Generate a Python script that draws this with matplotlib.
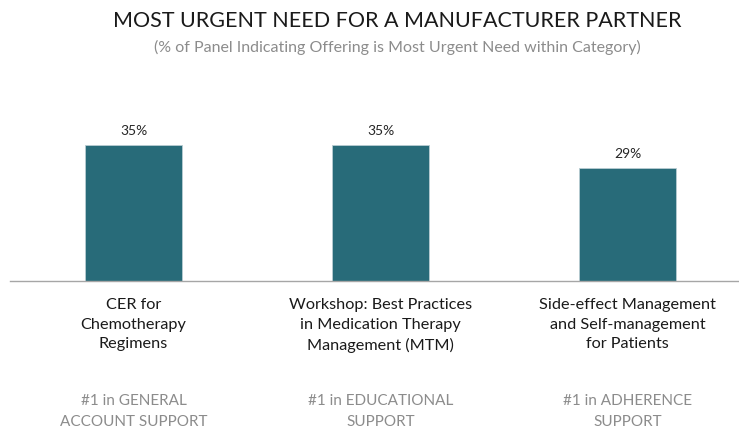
import matplotlib
matplotlib.use("Agg")
import matplotlib.pyplot as plt

categories = ["CER for\nChemotherapy\nRegimens",
              "Workshop: Best Practices\nin Medication Therapy\nManagement (MTM)",
              "Side-effect Management\nand Self-management\nfor Patients"]
values = [35, 35, 29]
value_labels = ["35%", "35%", "29%"]
ranks = ["#1 in GENERAL\nACCOUNT SUPPORT",
         "#1 in EDUCATIONAL\nSUPPORT",
         "#1 in ADHERENCE\nSUPPORT"]

plt.rcParams['font.family'] = ['Lato', 'DejaVu Sans']

W, H = 739, 428
fig = plt.figure(figsize=(W/100, H/100), dpi=100)
fig.patch.set_facecolor("white")

ax_left, ax_right = 10/W, 1.0
ax_bottom = (H-281)/H
ax_top = (H-125)/H
ax = fig.add_axes([ax_left, ax_bottom, ax_right-ax_left, ax_top-ax_bottom])

x = list(range(len(categories)))
bars = ax.bar(x, values, width=0.393, color="#286b79", edgecolor="#b9cdd2", linewidth=0.6, zorder=2)
ax.set_xlim(-0.5, 2.451)
ax.set_ylim(0, (281-125)/3.886)
for s in ["top", "right", "left"]:
    ax.spines[s].set_visible(False)
ax.spines["bottom"].set_color("#a6a6a6")
ax.spines["bottom"].set_linewidth(1.0)
ax.set_xticks([])
ax.set_yticks([])

for xi, v, lab in zip(x, values, value_labels):
    ax.annotate(lab, (xi, v), xytext=(0, 6), textcoords="offset points",
                ha="center", va="bottom", fontsize=10, color="#262626")

for xi, cat, rk in zip(x, categories, ranks):
    ax.annotate(cat, (xi, 0), xytext=(0, -12.5), textcoords="offset points",
                ha="center", va="top", fontsize=11.7, color="#1a1a1a", linespacing=1.5)
    ax.annotate(rk, (xi, 0), xytext=(0, -81.5), textcoords="offset points",
                ha="center", va="top", fontsize=11, color="#8c8c8c", linespacing=1.58)

fig.text(397/W, 1-21/H, "MOST URGENT NEED FOR A MANUFACTURER PARTNER",
         ha="center", va="center", fontsize=15.5, color="#1a1a1a")
fig.text(397/W, 1-47/H, "(% of Panel Indicating Offering is Most Urgent Need within Category)",
         ha="center", va="center", fontsize=11.5, color="#8c8c8c")

fig.savefig("out.png", dpi=100)
